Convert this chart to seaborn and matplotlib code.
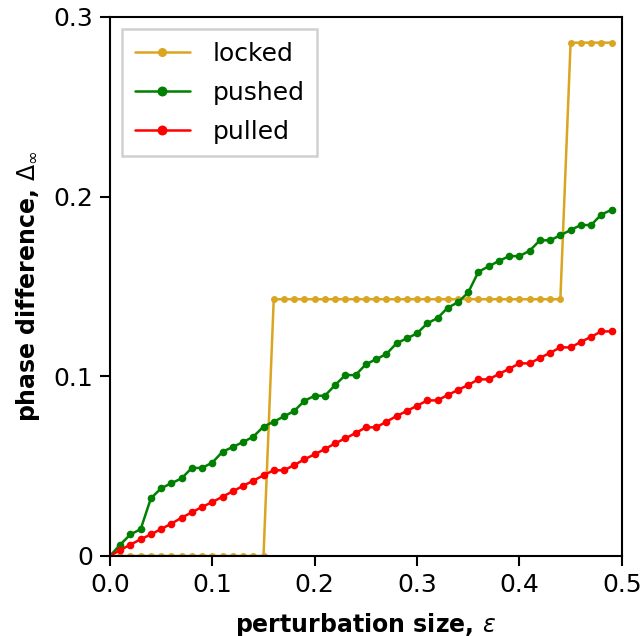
import numpy as np
import pandas as pd
import matplotlib
matplotlib.use("Agg")
import matplotlib.pyplot as plt
import seaborn as sns

sns.set_style("ticks", rc={"axes.edgecolor": "black", "text.color": "black",
                           "xtick.color": "black", "ytick.color": "black",
                           "axes.labelcolor": "black"})
plt.rcParams['font.family'] = ['DejaVu Sans']
plt.rcParams['mathtext.fontset'] = 'dejavusans'

# perturbation sizes 0.00 .. 0.49
eps = [round(0.01 * i, 2) for i in range(50)]

locked = [0.0] * 16 + [0.1429] * 29 + [0.2857] * 5

pushed = [0.0, 0.0063, 0.012, 0.0149, 0.0321, 0.0377, 0.0405, 0.0432, 0.049, 0.049,
          0.052, 0.058, 0.0607, 0.0634, 0.0664, 0.072, 0.0747, 0.0777, 0.0807, 0.0864,
          0.0892, 0.0892, 0.0952, 0.1007, 0.1007, 0.1067, 0.1095, 0.1124, 0.1184, 0.1211,
          0.1239, 0.1295, 0.1324, 0.1382, 0.1412, 0.1467, 0.1582, 0.1612, 0.1642, 0.1669,
          0.1669, 0.1699, 0.1757, 0.1757, 0.1785, 0.1814, 0.1842, 0.1842, 0.19, 0.1927]

pulled = [0.0, 0.0033, 0.0063, 0.0093, 0.012, 0.015, 0.018, 0.0213, 0.0243, 0.0273,
          0.030, 0.033, 0.036, 0.039, 0.0419, 0.0449, 0.0477, 0.0477, 0.0506, 0.0538,
          0.0566, 0.0595, 0.0627, 0.0655, 0.0684, 0.0716, 0.0716, 0.0747, 0.0779, 0.0807,
          0.0836, 0.0866, 0.0866, 0.0896, 0.0924, 0.0952, 0.0983, 0.0983, 0.1013, 0.1042,
          0.1072, 0.1072, 0.1102, 0.1131, 0.1161, 0.1161, 0.1191, 0.122, 0.125, 0.125]

series = [("locked", locked, "goldenrod", 5),
          ("pushed", pushed, "green", 5.5),
          ("pulled", pulled, "red", 5.5)]

fig = plt.figure(figsize=(6.43, 6.36), dpi=100)
ax = fig.add_axes([0.171, 0.1258, 0.796, 0.8475])

for name, vals, col, ms in series:
    df = pd.DataFrame({"eps": eps, "delta": vals})
    sns.lineplot(data=df, x="eps", y="delta", ax=ax, color=col, marker="o",
                 markersize=ms, markeredgewidth=0, linewidth=1.8, label=name)

ax.set_xlim(0, 0.5)
ax.set_ylim(0, 0.3)
ax.set_xticks([0.0, 0.1, 0.2, 0.3, 0.4, 0.5])
ax.set_xticklabels(["0.0", "0.1", "0.2", "0.3", "0.4", "0.5"])
ax.set_yticks([0, 0.1, 0.2, 0.3])
ax.set_yticklabels(["0", "0.1", "0.2", "0.3"])
ax.tick_params(labelsize=18, length=7, width=1.5, pad=5)
for sp in ax.spines.values():
    sp.set_linewidth(1.5)

ax.set_xlabel(r"perturbation size, $\varepsilon$", fontsize=17, fontweight="bold", labelpad=10)
ax.set_ylabel(r"phase difference, $\Delta_\infty$", fontsize=17, fontweight="bold", labelpad=8)

leg = ax.legend(loc="upper left", fontsize=18, fancybox=False, framealpha=1,
                edgecolor="#d0d0d0", handlelength=2.2, handletextpad=0.9,
                borderpad=0.5, labelspacing=0.6, borderaxespad=0.5, markerscale=1.3)
leg.get_frame().set_linewidth(1.8)

fig.savefig("out.png", dpi=100)
